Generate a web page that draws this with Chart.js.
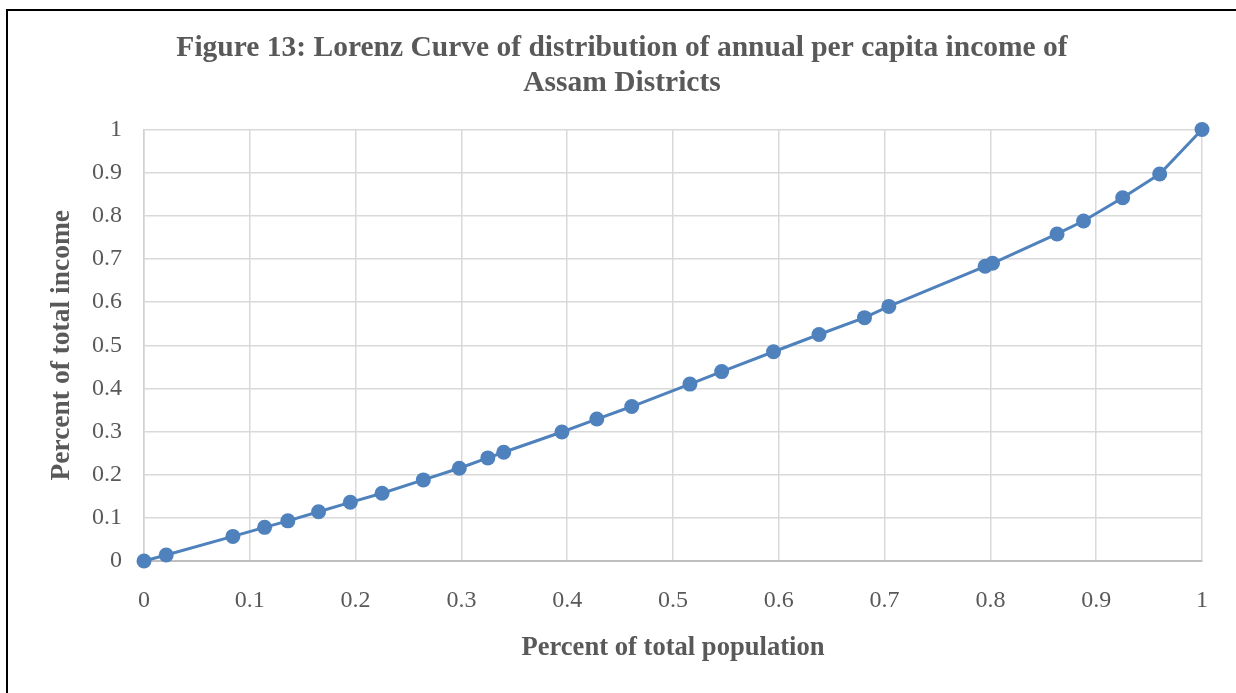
<!DOCTYPE html>
<html>
<head>
<meta charset="utf-8">
<script src="https://cdn.jsdelivr.net/npm/chart.js@4"></script>
<style>
  html, body { margin: 0; padding: 0; background: #ffffff; overflow: hidden; }
  #wrap { position: absolute; left: 0; top: 0; width: 1236px; height: 693px; }
  #frame { position: absolute; left: 6px; top: 9px; width: 1400px; height: 800px;
           border-left: 2px solid #000; border-top: 2px solid #000; pointer-events: none; }
</style>
</head>
<body>
<div id="wrap"><canvas id="c" width="1236" height="693"></canvas></div>
<div id="frame"></div>
<script>
const titleLines = ['Figure 13: Lorenz Curve of distribution of annual per capita income of', 'Assam Districts'];
const xAxisTitle = 'Percent of total population';
const yAxisTitle = 'Percent of total income';

// Cumulative share of population (x) and income (y)
const populationShare = [0, 0.021, 0.084, 0.114, 0.136, 0.165, 0.195, 0.225, 0.264, 0.298, 0.325, 0.340,
  0.395, 0.428, 0.461, 0.516, 0.546, 0.595, 0.638, 0.681, 0.704, 0.795, 0.802, 0.863, 0.888, 0.925, 0.960, 1];
const incomeShare = [0, 0.014, 0.057, 0.078, 0.093, 0.114, 0.136, 0.157, 0.188, 0.215, 0.239, 0.252,
  0.299, 0.329, 0.358, 0.410, 0.439, 0.485, 0.525, 0.564, 0.590, 0.683, 0.690, 0.758, 0.788, 0.842, 0.897, 1];

const xTickLabels = ['0', '0.1', '0.2', '0.3', '0.4', '0.5', '0.6', '0.7', '0.8', '0.9', '1'];
const yTickLabels = ['0', '0.1', '0.2', '0.3', '0.4', '0.5', '0.6', '0.7', '0.8', '0.9', '1'];

const points = populationShare.map((x, i) => ({ x: x, y: incomeShare[i] }));
const textGray = '#595959';
const serif = '"Liberation Serif", "Times New Roman", "DejaVu Serif", serif';

new Chart(document.getElementById('c'), {
  type: 'scatter',
  data: {
    datasets: [{
      data: points,
      showLine: true,
      clip: false,
      borderColor: '#4f81bd',
      backgroundColor: '#4f81bd',
      borderWidth: 3,
      pointRadius: 7.5,
      pointHoverRadius: 7.5,
      pointBorderWidth: 0,
      tension: 0
    }]
  },
  options: {
    responsive: false,
    animation: false,
    events: [],
    layout: { padding: { left: 42, right: 34, top: 0, bottom: 28 } },
    plugins: {
      legend: { display: false },
      tooltip: { enabled: false },
      title: {
        display: true,
        text: titleLines,
        color: textGray,
        font: { family: serif, size: 29.5, weight: 'bold', lineHeight: 1.18 },
        padding: { top: 31, bottom: 28.9 }
      }
    },
    scales: {
      x: {
        type: 'linear',
        min: 0, max: 1,
        afterFit: (s) => { s.height = 104; },
        ticks: {
          stepSize: 0.1,
          color: textGray,
          font: { family: serif, size: 24 },
          padding: 25,
          maxRotation: 0,
          callback: (v, i) => xTickLabels[i]
        },
        grid: { color: '#d9d9d9', lineWidth: 1.5, drawTicks: false },
        border: { color: '#bfbfbf', width: 2 },
        title: {
          display: true,
          text: xAxisTitle,
          color: textGray,
          font: { family: serif, size: 26.6, weight: 'bold', lineHeight: 1.2 },
          padding: { top: 0, bottom: 0.5 }
        }
      },
      y: {
        type: 'linear',
        min: 0, max: 1,
        afterFit: (s) => { s.width = 102; },
        ticks: {
          stepSize: 0.1,
          color: textGray,
          font: { family: serif, size: 24 },
          padding: 22,
          callback: (v, i) => yTickLabels[i]
        },
        grid: { color: '#d9d9d9', lineWidth: 1.5, drawTicks: false },
        border: { color: '#d0d0d0', width: 1.5 },
        title: {
          display: true,
          text: yAxisTitle,
          color: textGray,
          font: { family: serif, size: 27.5, weight: 'bold', lineHeight: 1.2 },
          padding: { top: 3.5, bottom: 0 }
        }
      }
    }
  }
});
</script>
</body>
</html>
